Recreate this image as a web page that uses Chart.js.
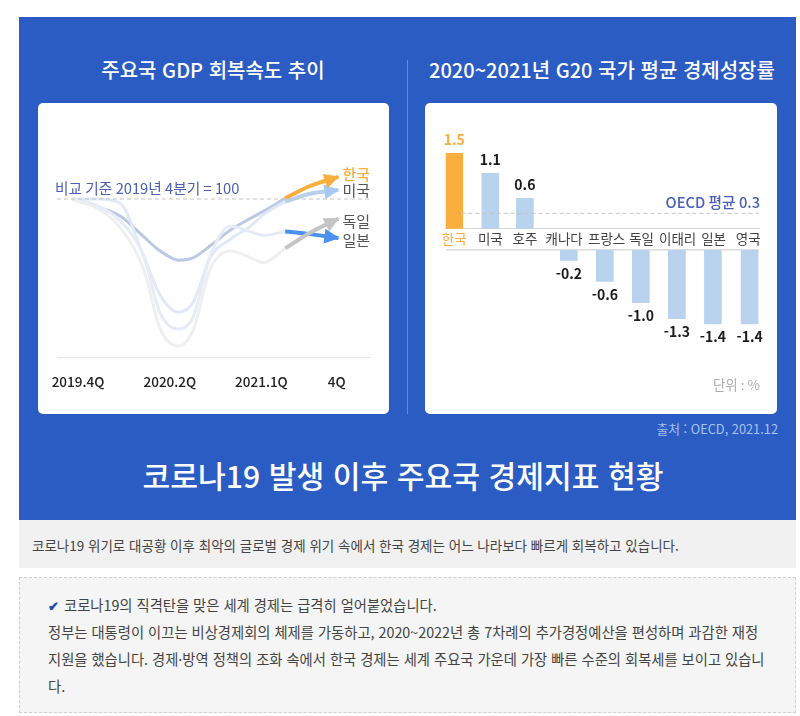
<!DOCTYPE html>
<html lang="ko">
<head>
<meta charset="utf-8">
<title>코로나19 발생 이후 주요국 경제지표 현황</title>
<script src="https://cdn.jsdelivr.net/npm/chart.js@4"></script>
<style>
html, body { margin: 0; padding: 0; background: #fff; }
body { width: 800px; height: 716px; position: relative; overflow: hidden; font-family: "Noto Sans CJK KR", "Noto Sans", sans-serif; }
.abs { position: absolute; white-space: nowrap; }
#panel { left: 19px; top: 17px; width: 777px; height: 503px; background: #2b5cc3; }
.card { background: #fff; border-radius: 5px; top: 103px; width: 352px; height: 311px; }
.card canvas { display: block; }
#divider { left: 407px; top: 60px; width: 1px; height: 354px; background: rgba(255,255,255,.28); }
.sub { color: #fff; font-size: 20px; font-weight: 500; top: 56px; line-height: 28px; transform: translateX(-50%); }
#source { right: 22px; top: 420px; font-size: 12.8px; color: #a9c2ee; line-height: 18px; }
#title { left: 403px; top: 453px; transform: translateX(-50%); color: #fff; font-size: 30.2px; font-weight: 500; line-height: 44px; }
#strip { left: 19px; top: 520px; width: 777px; height: 48px; background: #f1f1f1; }
#strip div { position: absolute; left: 13px; top: 15px; font-size: 13.5px; line-height: 20px; color: #444; white-space: nowrap; }
#note { left: 19px; top: 577px; width: 775px; height: 134px; background: #f5f5f5; border: 1px dashed #cfcfcf; }
#note div { position: absolute; left: 28px; font-size: 14.3px; line-height: 20px; color: #444; white-space: nowrap; }
#note b { color: #1f4ea8; font-size: 13px; margin-right: 5px; }
</style>
</head>
<body>
<div class="abs" id="panel"></div>
<div class="abs" id="divider"></div>
<div class="abs sub" style="left:213px">주요국 GDP 회복속도 추이</div>
<div class="abs sub" style="left:602px">2020~2021년 G20 국가 평균 경제성장률</div>
<div class="abs card" style="left:38px; width:351px"><canvas id="recovery" width="351" height="311"></canvas></div>
<div class="abs card" style="left:425px"><canvas id="growth" width="352" height="311"></canvas></div>
<div class="abs" id="source">출처 : OECD, 2021.12</div>
<div class="abs" id="title">코로나19 발생 이후 주요국 경제지표 현황</div>
<div class="abs" id="strip"><div>코로나19 위기로 대공황 이후 최악의 글로벌 경제 위기 속에서 한국 경제는 어느 나라보다 빠르게 회복하고 있습니다.</div></div>
<div class="abs" id="note">
  <div style="top:17px"><b>✔</b>코로나19의 직격탄을 맞은 세계 경제는 급격히 얼어붙었습니다.</div>
  <div style="top:44px">정부는 대통령이 이끄는 비상경제회의 체제를 가동하고, 2020~2022년 총 7차례의 추가경정예산을 편성하며 과감한 재정</div>
  <div style="top:71px">지원을 했습니다. 경제·방역 정책의 조화 속에서 한국 경제는 세계 주요국 가운데 가장 빠른 수준의 회복세를 보이고 있습니</div>
  <div style="top:98px">다.</div>
</div>

<script>
// left chart: GDP index, 2019.4Q = 100
const pastX = [0, 0.75, 1.45, 2.15, 2.65, 3.2, 3.65, 4.15, 4.75, 5.35, 5.75, 6.4];
const recentX = [6.4, 7.15, 8.0];
const koreaPast = [100, 99.4, 98.7, 97.1, 96.0, 95.3, 95.5, 96.4, 97.6, 98.5, 99.05, 100.05];
const usaPast = [100, 100, 99.65, 95.6, 92.6, 91.3, 92.1, 95.5, 96.9, 97.9, 98.8, 99.8];
const japanPast = [100, 99.5, 98.3, 95.6, 91.2, 90.0, 91.0, 95.6, 97.9, 97.5, 97.2, 97.5];
const germanyPast = [100, 99.3, 97.8, 94.6, 90.0, 88.7, 90.0, 94.6, 96.0, 95.5, 95.1, 96.2];
const koreaRecent = [100.05, 101.0, 101.7];
const usaRecent = [99.8, 100.4, 100.7];
const japanRecent = [97.5, 97.3, 97.0];
const germanyRecent = [96.2, 97.4, 98.5];
const quarterLabels = ["2019.4Q", "2020.2Q", "2021.1Q", "4Q"];
const quarterTicks = [0.18, 2.94, 5.69, 7.95];

// right chart: growth by country
const countries = ["한국", "미국", "호주", "캐나다", "프랑스", "독일", "이태리", "일본", "영국"];
const growth = [1.5, 1.1, 0.6, -0.2, -0.6, -1.0, -1.3, -1.4, -1.4];
const barSlots = [0, 1, 1.96, 3.18, 4.18, 5.18, 6.18, 7.18, 8.2];
const labelSlots = [0, 1, 1.96, 3.05, 4.23, 5.2, 6.2, 7.2, 8.16];
const oecdAverage = 0.3;

const ORANGE = "#f9ae3d";
const INK_BLUE = "#4a5fb5";
const FONT = '"Noto Sans CJK KR", "Noto Sans", sans-serif';

Chart.defaults.font.family = FONT;
Chart.defaults.animation = false;
Chart.defaults.plugins.legend.display = false;
Chart.defaults.plugins.tooltip.enabled = false;

function series(xs, ys) {
    return xs.map((x, i) => ({ x: x, y: ys[i] }));
}

function pastLine(ys, color) {
    return { data: series(pastX, ys), borderColor: color, borderWidth: 3, pointRadius: 0, cubicInterpolationMode: "monotone" };
}

function recentLine(ys, color, arrow, name, dy) {
    return { data: series(recentX, ys), borderColor: color, borderWidth: 4, pointRadius: 0, cubicInterpolationMode: "monotone", arrow: arrow, name: name, nameDy: dy };
}

const endLabels = {
    id: "endLabels",
    afterDatasetsDraw(chart) {
        const c = chart.ctx;
        chart.data.datasets.forEach((ds, i) => {
            if (!ds.arrow) return;
            const pts = chart.getDatasetMeta(i).data;
            const tip = pts[pts.length - 1], prev = pts[pts.length - 2];
            const a = Math.atan2(tip.y - prev.y, tip.x - prev.x);
            c.save();
            c.translate(tip.x, tip.y);
            c.rotate(a);
            c.fillStyle = ds.arrow;
            c.beginPath();
            c.moveTo(1, 0);
            c.lineTo(-14, -7.5);
            c.lineTo(-14, 7.5);
            c.closePath();
            c.fill();
            c.restore();
            c.save();
            c.font = (ds.name === "한국" ? "500 " : "") + "15px " + FONT;
            c.fillStyle = ds.name === "한국" ? ORANGE : "#555";
            c.textAlign = "center";
            c.textBaseline = "middle";
            c.fillText(ds.name, tip.x + 18, tip.y + ds.nameDy);
            c.restore();
        });
        const xs = chart.scales.x, ys = chart.scales.y;
        c.save();
        c.font = "14.7px " + FONT;
        c.fillStyle = INK_BLUE;
        c.textBaseline = "middle";
        c.fillText("비교 기준 2019년 4분기 = 100", xs.left - 2, ys.getPixelForValue(100) - 11);
        c.restore();
    }
};

new Chart(document.getElementById("recovery"), {
    type: "line",
    data: {
        datasets: [
            { data: [{ x: -0.45, y: 100 }, { x: 8.95, y: 100 }], borderColor: "#c4c4c4", borderWidth: 1, borderDash: [4, 3], pointRadius: 0 },
            pastLine(germanyPast, "#efefef"),
            pastLine(japanPast, "#e5ecf8"),
            pastLine(usaPast, "#dfe9f8"),
            pastLine(koreaPast, "#bcc9e2"),
            recentLine(usaRecent, "#b8d0ee", "#a8c8f5", "미국", 0),
            recentLine(germanyRecent, "#c4c4c4", "#c4c4c4", "독일", 3),
            recentLine(japanRecent, "#4a90ee", "#4a90ee", "일본", 2),
            recentLine(koreaRecent, ORANGE, ORANGE, "한국", -2.5)
        ]
    },
    options: {
        responsive: false,
        layout: { padding: { top: 57, left: 19, right: 19, bottom: 0 } },
        scales: {
            x: {
                type: "linear", min: -0.45, max: 8.95,
                grid: { display: false, drawTicks: false },
                border: { color: "#e4e4e4" },
                afterBuildTicks(scale) { scale.ticks = quarterTicks.map(v => ({ value: v })); },
                afterFit(scale) {
                    scale.height = 57;
                    // first label hangs past the plot edge, don't let it push the plot in
                    scale.paddingLeft = 0;
                    scale.paddingRight = 0;
                },
                ticks: {
                    autoSkip: false, maxRotation: 0, padding: 17, color: "#222",
                    font: { size: 13.5, weight: "500" },
                    callback: (v, i) => quarterLabels[i]
                }
            },
            y: { display: false, min: 87.85, max: 103 }
        }
    },
    plugins: [endLabels]
});

const valueLabels = {
    id: "valueLabels",
    afterDatasetsDraw(chart) {
        const c = chart.ctx;
        c.save();
        c.textAlign = "center";
        c.textBaseline = "middle";
        c.font = "700 14px " + FONT;
        chart.data.datasets.forEach((ds, i) => {
            if (ds.type === "line") return;
            chart.getDatasetMeta(i).data.forEach((bar, k) => {
                const v = ds.data[k].y;
                c.fillStyle = v === growth[0] ? ORANGE : "#1c1c1c";
                c.fillText(v.toFixed(1), bar.x, bar.y + (v > 0 ? -13.5 : 13));
            });
        });
        const xs = chart.scales.x, y1 = chart.scales.y1;
        c.textAlign = "right";
        c.font = "500 14.7px " + FONT;
        c.fillStyle = INK_BLUE;
        c.fillText("OECD 평균 " + oecdAverage, xs.right + 1, y1.getPixelForValue(oecdAverage) - 11);
        c.font = "13.5px " + FONT;
        c.fillStyle = "#adadad";
        c.fillText("단위 : %", xs.right + 1, 282);
        c.restore();
    }
};

const barRows = series(barSlots, growth);
const barStyle = { barThickness: 17, grouped: false };

new Chart(document.getElementById("growth"), {
    type: "bar",
    data: {
        datasets: [
            Object.assign({ yAxisID: "y1", data: barRows.filter(r => r.y > 0), backgroundColor: ctx => ctx.dataIndex === 0 ? ORANGE : "#b9d3ee" }, barStyle),
            Object.assign({ yAxisID: "y2", data: barRows.filter(r => r.y < 0), backgroundColor: "#b9d3ee" }, barStyle),
            { type: "line", yAxisID: "y1", order: -1, data: [{ x: 0.2, y: oecdAverage }, { x: 8.46, y: oecdAverage }], borderColor: "#c4c4c4", borderWidth: 1, borderDash: [4, 3], pointRadius: 0 }
        ]
    },
    options: {
        responsive: false,
        layout: { padding: { top: 25, left: 20.5, right: 18, bottom: 69 } },
        scales: {
            x: {
                type: "linear", min: -0.244, max: 8.46, offset: false,
                position: { y1: 0 },
                grid: { display: false, drawTicks: false },
                border: { color: "#d8d8d8" },
                afterBuildTicks(scale) { scale.ticks = labelSlots.map(v => ({ value: v })); },
                ticks: {
                    autoSkip: false, maxRotation: 0, padding: 2,
                    font: { size: 13.5 },
                    color: ctx => ctx.index === 0 ? ORANGE : "#444",
                    callback: (v, i) => countries[i]
                }
            },
            // the axis is split by the label row, so each side has its own zero
            y1: { min: -2.334, max: 2.006, ticks: { display: false }, grid: { display: false, drawTicks: false }, border: { display: false }, afterFit(s) { s.width = 0; } },
            y2: {
                min: -1.798, max: 2.296,
                ticks: { display: false },
                grid: { color: "#dcdcdc", lineWidth: 1.5, drawTicks: false },
                border: { display: false },
                afterBuildTicks(scale) { scale.ticks = [{ value: 0 }]; },
                afterFit(s) { s.width = 0; }
            }
        }
    },
    plugins: [valueLabels]
});
</script>
</body>
</html>
